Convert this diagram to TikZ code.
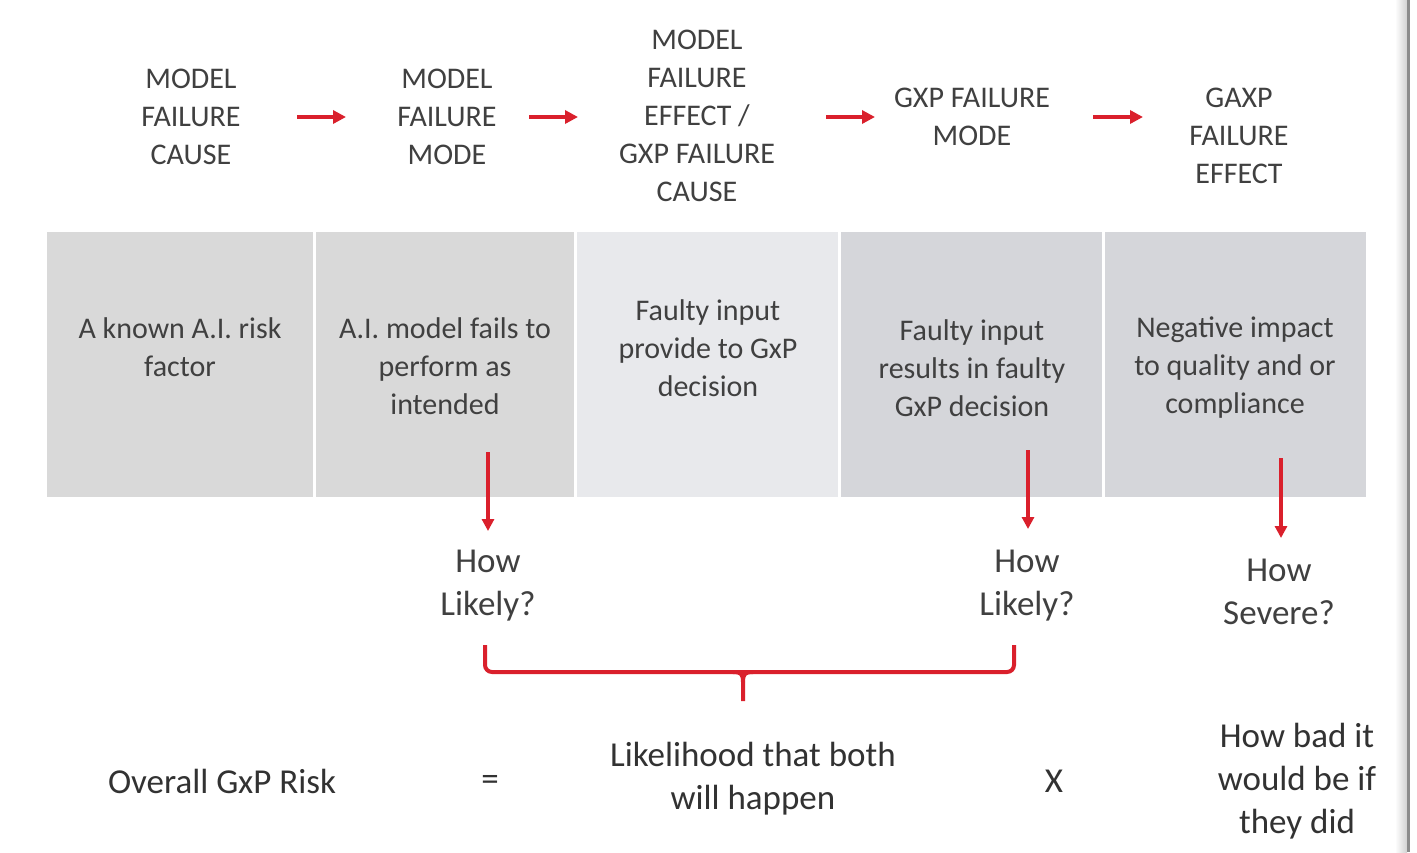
\documentclass[tikz,border=0pt]{standalone}
\usepackage{fontspec}
\setmainfont{Carlito}
\usetikzlibrary{arrows.meta}
\definecolor{txt}{RGB}{64,64,64}
\definecolor{txtdark}{RGB}{50,50,50}
\definecolor{arrred}{RGB}{218,32,44}
\definecolor{boxA}{RGB}{217,217,217}
\definecolor{boxB}{RGB}{232,233,236}
\definecolor{boxC}{RGB}{213,214,218}
\begin{document}
\begin{tikzpicture}[x=1pt,y=-1pt,
  hdr/.style={align=center,text=txt,inner sep=0pt,font=\fontsize{30}{38}\selectfont},
  boxtxt/.style={align=center,text=txt,inner sep=0pt,font=\fontsize{30}{38}\selectfont},
  ques/.style={align=center,text=txt,inner sep=0pt,font=\fontsize{35}{43}\selectfont},
  eqn/.style={align=center,text=txtdark,inner sep=0pt,font=\fontsize{35}{43}\selectfont},
  cell/.style={rectangle,draw=none,inner sep=0pt,minimum height=265pt},
  harr/.style={draw=arrred,line width=4pt,-{Triangle[length=13pt,width=13pt]}},
  varr/.style={draw=arrred,line width=3.5pt,-{Triangle[length=12pt,width=12pt]}},
  brace/.style={draw=arrred,line width=4pt,rounded corners=7pt}]
\useasboundingbox (0,0) rectangle (1417,852);
\fill[white] (0,0) rectangle (1417,852);
% right edge
\shade[left color=white,right color=black!18] (1395,0) rectangle (1407,852);
\fill[black!45] (1407,0) rectangle (1410,852);
% headers
\node[hdr] (h1) at (191,117) {MODEL\\FAILURE\\CAUSE};
\node[hdr] (h2) at (447,117) {MODEL\\FAILURE\\MODE};
\node[hdr] (h3) at (697,116) {MODEL\\FAILURE\\EFFECT /\\GXP FAILURE\\CAUSE};
\node[hdr] (h4) at (972,117) {GXP FAILURE\\MODE};
\node[hdr] (h5) at (1239,136) {GAXP\\FAILURE\\EFFECT};
% header arrows
\coordinate (a1s) at (297,117); \coordinate (a1e) at (346,117);
\coordinate (a2s) at (529,117); \coordinate (a2e) at (578,117);
\coordinate (a3s) at (826,117); \coordinate (a3e) at (875,117);
\coordinate (a4s) at (1093,117); \coordinate (a4e) at (1143,117);
\draw[harr] (a1s) -- (a1e);
\draw[harr] (a2s) -- (a2e);
\draw[harr] (a3s) -- (a3e);
\draw[harr] (a4s) -- (a4e);
% boxes
\node[cell,fill=boxA,minimum width=266pt] (b1) at (180,364.5) {};
\node[cell,fill=boxA,minimum width=258pt] (b2) at (445,364.5) {};
\node[cell,fill=boxB,minimum width=261pt] (b3) at (707.5,364.5) {};
\node[cell,fill=boxC,minimum width=261pt] (b4) at (971.5,364.5) {};
\node[cell,fill=boxC,minimum width=261pt] (b5) at (1235.5,364.5) {};
\node[boxtxt] (t1) at (180,347) {A known A.I. risk\\factor};
\node[boxtxt] (t2) at (445,366) {A.I. model fails to\\perform as\\intended};
\node[boxtxt] (t3) at (708,348) {Faulty input\\provide to GxP\\decision};
\node[boxtxt] (t4) at (972,368) {Faulty input\\results in faulty\\GxP decision};
\node[boxtxt] (t5) at (1235,368) {Negative impact\\to quality and or\\compliance};
% questions
\node[ques] (q1) at (488,586) {How\\Likely?};
\node[ques] (q2) at (1027,586) {How\\Likely?};
\node[ques] (q3) at (1279,592) {How\\Severe?};
\coordinate (v1s) at (488,452); \coordinate (v1e) at (488,531);
\coordinate (v2s) at (1028,450); \coordinate (v2e) at (1028,529);
\coordinate (v3s) at (1281,458); \coordinate (v3e) at (1281,538);
\draw[varr] (v1s) -- (v1e);
\draw[varr] (v2s) -- (v2e);
\draw[varr] (v3s) -- (v3e);
% brace
\coordinate (brL) at (485,645);
\coordinate (brR) at (1014,645);
\coordinate (brT) at (743,701);
\draw[brace] (brL) -- (485,672) -- (1014,672) -- (brR);
\draw[draw=arrred,line width=4pt]
  (733,672) .. controls (741,672) and (743,674) .. (743,682) -- (brT);
\draw[draw=arrred,line width=4pt]
  (753,672) .. controls (745,672) and (743,674) .. (743,682);
% equation
\node[eqn] (e1) at (222,781) {Overall GxP Risk};
\node[eqn] (e2) at (490,783) {=};
\node[eqn] (e3) at (753,779) {Likelihood that both\\will happen};
\node[eqn] (e4) at (1054,781) {X};
\node[eqn] (e5) at (1297,781) {How bad it\\would be if\\they did};
\end{tikzpicture}
\end{document}
